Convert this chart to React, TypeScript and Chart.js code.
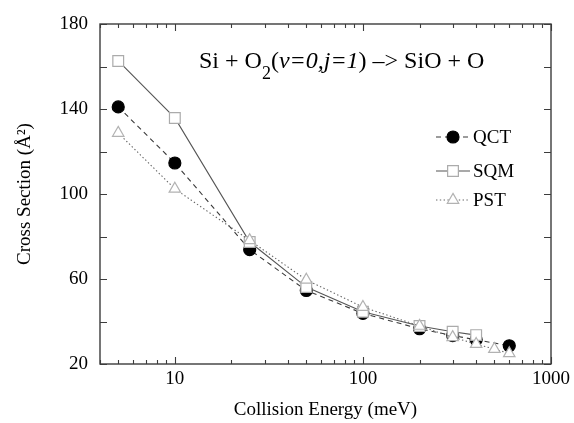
import React, { useEffect, useRef } from 'react';
import { Chart, registerables } from 'chart.js';

Chart.register(...registerables);

// ---- data ----
const qctEnergy = [5, 10, 25, 50, 100, 200, 300, 400, 600];
const qctValues = [141, 114.6, 73.8, 54.6, 43.8, 36.6, 33.4, 31.4, 28.6];

const sqmEnergy = [5, 10, 25, 50, 100, 200, 300, 400];
const sqmValues = [162.6, 135.8, 77.4, 56.2, 44.6, 37.9, 35.2, 33.6];

const pstEnergy = [5, 10, 25, 50, 100, 200, 300, 400, 500, 600];
const pstValues = [128.7, 102.4, 78.2, 59.6, 46.8, 37.9, 32.6, 29.4, 27, 25];

const seriesNames = ['QCT', 'SQM', 'PST'];

const xLabelValues = [10, 100, 1000];
const xTickValues = [4, 5, 6, 7, 8, 9, 10, 20, 30, 40, 50, 60, 70, 80, 90, 100, 200, 300, 400, 500, 600, 700, 800, 900, 1000];
const yLabelValues = [20, 60, 100, 140, 180];
const yTickValues = [20, 40, 60, 80, 100, 120, 140, 160, 180];

const SERIF = '"Liberation Serif", "DejaVu Serif", "Times New Roman", serif';

const styles = [
  { line: '#3a3a3a', dash: [5, 4], point: 'circle', radius: 6, fill: '#000000', border: '#000000' },
  { line: '#555555', dash: [], point: 'rect', radius: 7.6, fill: '#ffffff', border: '#ababab' },
  { line: '#666666', dash: [1.4, 2.4], point: 'triangle', radius: 6.6, fill: '#ffffff', border: '#b2b2b2' },
];

function toPoints(xs: number[], ys: number[]) {
  return xs.map((x, i) => ({ x, y: ys[i] }));
}

function drawMarker(ctx: CanvasRenderingContext2D, kind: string, x: number, y: number, r: number, fill: string, border: string) {
  ctx.save();
  ctx.setLineDash([]);
  ctx.fillStyle = fill;
  ctx.strokeStyle = border;
  ctx.lineWidth = 1.2;
  ctx.beginPath();
  if (kind === 'circle') {
    ctx.arc(x, y, r, 0, Math.PI * 2);
  } else if (kind === 'rect') {
    const s = Math.SQRT1_2 * r;
    ctx.rect(x - s, y - s, 2 * s, 2 * s);
  } else {
    let a = 0;
    ctx.moveTo(x + Math.sin(a) * r, y - Math.cos(a) * r);
    a += (2 * Math.PI) / 3;
    ctx.lineTo(x + Math.sin(a) * r, y - Math.cos(a) * r);
    a += (2 * Math.PI) / 3;
    ctx.lineTo(x + Math.sin(a) * r, y - Math.cos(a) * r);
    ctx.closePath();
  }
  ctx.fill();
  ctx.stroke();
  ctx.restore();
}

const framePlugin = {
  id: 'frameTicks',
  afterDraw(chart: any) {
    const { ctx, chartArea } = chart;
    const { left, right, top, bottom } = chartArea;
    const xs = chart.scales.x;
    const ys = chart.scales.y;
    ctx.save();
    ctx.strokeStyle = '#3c3c3c';
    ctx.lineWidth = 1.4;
    ctx.setLineDash([]);
    ctx.strokeRect(left, top, right - left, bottom - top);
    ctx.lineWidth = 1.1;
    ctx.beginPath();
    for (const v of yTickValues) {
      const py = Math.round(ys.getPixelForValue(v)) + 0.5;
      ctx.moveTo(left, py);
      ctx.lineTo(left + 7, py);
      ctx.moveTo(right, py);
      ctx.lineTo(right - 7, py);
    }
    for (const v of xTickValues) {
      const px = Math.round(xs.getPixelForValue(v)) + 0.5;
      const len = xLabelValues.includes(v) ? 7 : 4;
      ctx.moveTo(px, bottom);
      ctx.lineTo(px, bottom - len);
      ctx.moveTo(px, top);
      ctx.lineTo(px, top + len);
    }
    ctx.stroke();

    // title
    const tx = 199;
    const ty = 68;
    ctx.fillStyle = '#000';
    ctx.textBaseline = 'alphabetic';
    ctx.textAlign = 'left';
    const parts: [string, string, number][] = [
      ['Si + O', `24px ${SERIF}`, 0],
      ['2', `18px ${SERIF}`, 11],
      ['(', `24px ${SERIF}`, 0],
      ['v=0,j=1', `italic 24px ${SERIF}`, 0],
      [') –> SiO + O', `24px ${SERIF}`, 0],
    ];
    let cx = tx;
    for (const [t, f, dy] of parts) {
      ctx.font = f;
      ctx.fillText(t, cx, ty + dy);
      cx += ctx.measureText(t).width;
    }

    // legend
    const legendY = [137, 171, 200];
    ctx.font = `19px ${SERIF}`;
    ctx.textBaseline = 'middle';
    seriesNames.forEach((name, i) => {
      const st = styles[i];
      const y = legendY[i];
      ctx.save();
      ctx.strokeStyle = st.line;
      ctx.lineWidth = 1.1;
      ctx.setLineDash(st.dash);
      ctx.beginPath();
      ctx.moveTo(436, y);
      ctx.lineTo(470, y);
      ctx.stroke();
      ctx.restore();
      drawMarker(ctx, st.point, 453, y, st.radius, st.fill, st.border);
      ctx.fillStyle = '#000';
      ctx.fillText(name, 473, y + 1);
    });
    ctx.restore();
  },
};

export default function App() {
  const ref = useRef<HTMLCanvasElement | null>(null);
  useEffect(() => {
    if (!ref.current) return;
    const datasets = [
      toPoints(qctEnergy, qctValues),
      toPoints(sqmEnergy, sqmValues),
      toPoints(pstEnergy, pstValues),
    ].map((data, i) => ({
      label: seriesNames[i],
      data,
      borderColor: styles[i].line,
      borderWidth: 1.1,
      borderDash: styles[i].dash,
      pointStyle: styles[i].point,
      pointRadius: styles[i].radius,
      pointBackgroundColor: styles[i].fill,
      pointBorderColor: styles[i].border,
      pointBorderWidth: 1.2,
      fill: false,
      tension: 0,
      order: 2 - i,
    }));
    const chart = new Chart(ref.current, {
      type: 'line',
      data: { datasets } as any,
      plugins: [framePlugin],
      options: {
        animation: false,
        responsive: false,
        maintainAspectRatio: false,
        layout: { padding: { top: 24, right: 21, left: 0, bottom: 0 } },
        plugins: { legend: { display: false }, tooltip: { enabled: false }, title: { display: false } },
        scales: {
          x: {
            type: 'logarithmic',
            min: 4,
            max: 1000,
            grid: { display: false, drawTicks: false },
            border: { display: false },
            afterFit: (s: any) => { s.height = 59; },
            ticks: {
              autoSkip: false,
              maxRotation: 0,
              padding: 4,
              color: '#000',
              font: { family: SERIF, size: 19 },
              callback: (v: any) => (xLabelValues.includes(Number(v)) ? String(v) : ''),
            },
            title: {
              display: true,
              text: 'Collision Energy (meV)',
              color: '#000',
              font: { family: SERIF, size: 19 },
              padding: { top: 0, bottom: 2 },
            },
          },
          y: {
            type: 'linear',
            min: 20,
            max: 180,
            grid: { display: false, drawTicks: false },
            border: { display: false },
            afterFit: (s: any) => { s.width = 100; },
            ticks: {
              stepSize: 20,
              padding: 12,
              color: '#000',
              font: { family: SERIF, size: 19 },
              callback: (v: any) => (yLabelValues.includes(Number(v)) ? String(v) : ''),
            },
            title: {
              display: true,
              text: 'Cross Section (Å²)',
              color: '#000',
              font: { family: SERIF, size: 19 },
              padding: { top: 14, bottom: 0 },
            },
          },
        },
      },
    } as any);
    return () => chart.destroy();
  }, []);
  return (
    <div style={{ position: 'absolute', left: 0, top: 0, width: 574, height: 423, background: '#fff' }}>
      <canvas ref={ref} width={574} height={423} style={{ width: 574, height: 423, display: 'block' }} />
    </div>
  );
}
